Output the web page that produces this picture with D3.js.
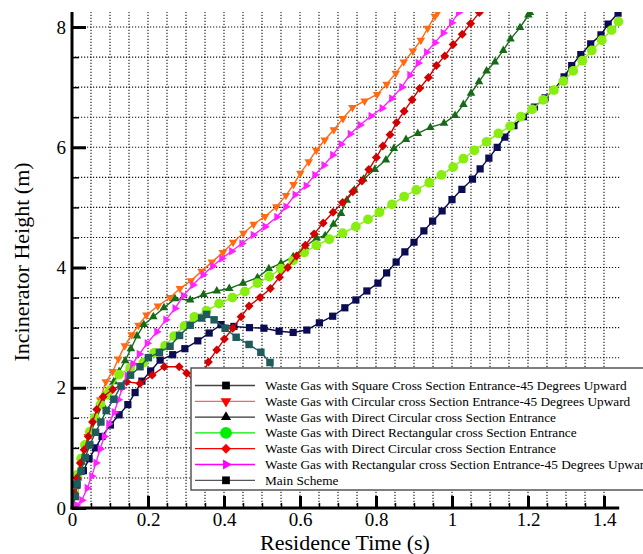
<!DOCTYPE html>
<html><head><meta charset="utf-8">
<script src="https://cdn.jsdelivr.net/npm/d3@7"></script>
<style>
body{margin:0;background:#fff;}
svg{display:block;font-family:"Liberation Serif","Times New Roman",serif;}
</style></head>
<body><svg id="c" width="643" height="554"></svg>
<script>
// ---------- DATA ----------
const legendLabels = [
  "Waste Gas with Square Cross Section Entrance-45 Degrees Upward",
  "Waste Gas with Circular cross Section Entrance-45 Degrees Upward",
  "Waste Gas with Direct Circular cross Section Entrance",
  "Waste Gas with Direct Rectangular cross Section Entrance",
  "Waste Gas with Direct Circular cross Section Entrance",
  "Waste Gas with Rectangular cross Section Entrance-45 Degrees Upward",
  "Main Scheme"
];
const xTicks = [0, 0.2, 0.4, 0.6, 0.8, 1, 1.2, 1.4];
const yTicks = [0, 2, 4, 6, 8];

// navy squares
const squareUp45 = [[0,0],[0.013,0.38],[0.030,0.62],[0.045,0.82],[0.062,1.0],[0.079,1.19],[0.101,1.38],[0.124,1.55],[0.147,1.72],[0.166,1.92],[0.184,2.11],[0.207,2.28],[0.232,2.46],[0.265,2.55],[0.297,2.65],[0.331,2.78],[0.361,2.91],[0.392,3.05],[0.426,3.02],[0.467,3.0],[0.505,2.99],[0.545,2.94],[0.582,2.92],[0.618,2.96],[0.651,3.08],[0.686,3.19],[0.718,3.33],[0.747,3.46],[0.776,3.61],[0.805,3.74],[0.828,3.91],[0.853,4.09],[0.876,4.26],[0.9,4.42],[0.926,4.61],[0.949,4.77],[0.974,4.94],[1.0,5.13],[1.026,5.30],[1.054,5.47],[1.074,5.64],[1.097,5.82],[1.119,6.0],[1.139,6.17],[1.163,6.36],[1.188,6.51],[1.217,6.67],[1.245,6.82],[1.269,6.96],[1.295,7.17],[1.315,7.36],[1.339,7.54],[1.365,7.72],[1.392,7.87],[1.411,8.05],[1.437,8.23]];
// orange down triangles
const circularUp45 = [[0,0],[0.008,0.27],[0.017,0.58],[0.027,0.85],[0.041,1.19],[0.058,1.49],[0.074,1.80],[0.089,2.10],[0.107,2.27],[0.122,2.48],[0.139,2.70],[0.157,2.88],[0.175,3.04],[0.196,3.21],[0.226,3.36],[0.258,3.50],[0.284,3.65],[0.313,3.78],[0.341,3.94],[0.368,4.09],[0.397,4.25],[0.424,4.42],[0.451,4.57],[0.478,4.72],[0.508,4.85],[0.538,5.01],[0.563,5.20],[0.583,5.38],[0.601,5.57],[0.623,5.76],[0.643,5.95],[0.665,6.12],[0.689,6.29],[0.713,6.48],[0.738,6.66],[0.770,6.77],[0.803,6.88],[0.828,7.05],[0.852,7.23],[0.873,7.42],[0.897,7.60],[0.918,7.78],[0.936,7.98],[0.955,8.18],[0.962,8.24]];
// dark green up triangles
const directCircular = [[0,0],[0.008,0.22],[0.016,0.5],[0.026,0.76],[0.037,1.02],[0.05,1.27],[0.065,1.5],[0.08,1.72],[0.095,1.93],[0.11,2.1],[0.124,2.27],[0.140,2.45],[0.155,2.65],[0.171,2.86],[0.189,3.05],[0.214,3.18],[0.242,3.33],[0.271,3.48],[0.311,3.46],[0.346,3.55],[0.381,3.61],[0.414,3.65],[0.450,3.74],[0.488,3.83],[0.518,3.98],[0.550,4.07],[0.582,4.18],[0.613,4.35],[0.644,4.49],[0.666,4.53],[0.688,4.72],[0.708,4.90],[0.723,5.12],[0.743,5.29],[0.767,5.47],[0.797,5.63],[0.826,5.79],[0.847,5.98],[0.879,6.13],[0.910,6.23],[0.943,6.33],[0.979,6.40],[1.008,6.53],[1.030,6.71],[1.050,6.90],[1.071,7.09],[1.091,7.27],[1.113,7.42],[1.135,7.61],[1.154,7.80],[1.179,7.99],[1.201,8.20],[1.205,8.24]];
// lime circles
const directRect = [[0,0],[0.006,0.25],[0.014,0.55],[0.024,0.82],[0.034,1.05],[0.047,1.27],[0.06,1.5],[0.075,1.72],[0.09,1.88],[0.1,1.96],[0.124,2.22],[0.153,2.33],[0.188,2.42],[0.216,2.58],[0.245,2.70],[0.269,2.86],[0.296,3.03],[0.322,3.18],[0.354,3.28],[0.387,3.40],[0.422,3.50],[0.455,3.60],[0.488,3.74],[0.519,3.85],[0.55,3.98],[0.582,4.12],[0.611,4.25],[0.643,4.37],[0.677,4.47],[0.712,4.57],[0.747,4.68],[0.779,4.80],[0.809,4.92],[0.842,5.05],[0.874,5.18],[0.906,5.29],[0.940,5.41],[0.972,5.54],[1.003,5.67],[1.030,5.81],[1.059,5.95],[1.091,6.09],[1.122,6.23],[1.153,6.35],[1.181,6.51],[1.211,6.63],[1.240,6.79],[1.268,6.95],[1.293,7.10],[1.319,7.27],[1.343,7.44],[1.368,7.61],[1.394,7.78],[1.420,7.95],[1.438,8.09]];
// red diamonds
const directCircular2 = [[0,0],[0.006,0.25],[0.013,0.5],[0.022,0.75],[0.032,0.97],[0.043,1.19],[0.054,1.43],[0.065,1.64],[0.082,1.85],[0.107,1.97],[0.144,2.10],[0.179,2.07],[0.211,2.21],[0.243,2.35],[0.282,2.35],[0.302,2.24],[0.322,2.1],[0.342,2.2],[0.359,2.43],[0.381,2.63],[0.401,2.81],[0.423,2.99],[0.445,3.18],[0.466,3.36],[0.495,3.50],[0.522,3.65],[0.546,3.84],[0.568,4.0],[0.591,4.19],[0.614,4.37],[0.637,4.56],[0.661,4.74],[0.687,4.92],[0.712,5.08],[0.739,5.26],[0.763,5.44],[0.781,5.63],[0.801,5.83],[0.818,6.02],[0.837,6.21],[0.854,6.41],[0.874,6.60],[0.895,6.79],[0.915,6.98],[0.938,7.16],[0.959,7.36],[0.981,7.52],[1.003,7.71],[1.027,7.88],[1.049,8.06],[1.072,8.24]];
// magenta right triangles
const rectUp45 = [[0,0],[0.012,0.05],[0.026,0.13],[0.040,0.33],[0.052,0.53],[0.063,0.75],[0.074,0.98],[0.085,1.19],[0.097,1.40],[0.111,1.59],[0.122,1.80],[0.133,2.0],[0.145,2.2],[0.16,2.4],[0.177,2.56],[0.198,2.74],[0.223,2.93],[0.247,3.13],[0.271,3.32],[0.293,3.53],[0.318,3.71],[0.345,3.88],[0.370,4.02],[0.394,4.15],[0.42,4.27],[0.447,4.40],[0.477,4.54],[0.508,4.68],[0.539,4.84],[0.563,5.01],[0.587,5.21],[0.616,5.36],[0.639,5.54],[0.663,5.70],[0.686,5.87],[0.708,6.05],[0.732,6.22],[0.758,6.37],[0.787,6.52],[0.816,6.65],[0.841,6.81],[0.868,7.0],[0.889,7.20],[0.911,7.40],[0.933,7.58],[0.955,7.74],[0.977,7.90],[0.999,8.07],[1.017,8.24]];
// teal squares
const mainScheme = [[0,0],[0.009,0.19],[0.013,0.40],[0.024,0.61],[0.035,0.84],[0.047,1.05],[0.062,1.26],[0.076,1.43],[0.090,1.62],[0.110,1.81],[0.129,2.03],[0.154,2.21],[0.179,2.35],[0.201,2.50],[0.230,2.59],[0.258,2.69],[0.283,2.87],[0.311,3.04],[0.341,3.16],[0.354,3.22],[0.374,3.13],[0.403,2.99],[0.432,2.84],[0.466,2.72],[0.497,2.59],[0.521,2.42],[0.535,2.25]];

// ---------- STYLES ----------
const series = [
  {data: squareUp45,      color:"#0c0c52", sym:"square",   size:52},
  {data: circularUp45,    color:"#ff6a13", sym:"down",     size:32},
  {data: directCircular,  color:"#176a17", sym:"up",       size:32},
  {data: directRect,      color:"#88ee10", sym:"circle",   size:75},
  {data: directCircular2, color:"#d40000", sym:"diamond",  size:40},
  {data: rectUp45,        color:"#ff22ff", sym:"right",    size:32},
  {data: mainScheme,      color:"#1e5c5c", sym:"square",   size:56}
];
const legendStyle = [
  {line:"#444", fill:"#000", sym:"square", size:60},
  {line:"#ff6060", fill:"#ff0000", sym:"down", size:50},
  {line:"#333", fill:"#000", sym:"up", size:45},
  {line:"#00ee00", fill:"#00ee00", sym:"circle", size:110},
  {line:"#ff0000", fill:"#ff0000", sym:"diamond", size:50},
  {line:"#ff00ff", fill:"#ff00ff", sym:"right", size:45},
  {line:"#555", fill:"#000", sym:"square", size:60}
];

const svg = d3.select("#c");
const x = d3.scaleLinear().domain([0, 1.44]).range([72, 619.2]);
const y = d3.scaleLinear().domain([0, 8.25]).range([508, 12]);

function symPath(name, size){
  const t = {square:d3.symbolSquare, circle:d3.symbolCircle, diamond:d3.symbolSquare,
             up:d3.symbolTriangle, down:d3.symbolTriangle, right:d3.symbolTriangle}[name];
  return d3.symbol().type(t).size(size)();
}
function symRot(name){ return {down:180, right:90, diamond:45}[name] || 0; }

// grid
const gx = d3.range(0.05, 1.4001, 0.05);
const gy = d3.range(0.5, 8.001, 0.5);
const grid = svg.append("g").attr("stroke","#111").attr("stroke-width",1.1).attr("stroke-dasharray","1.2,1.8");
gx.forEach(v=>grid.append("line").attr("x1",x(v)).attr("x2",x(v)).attr("y1",y(0)).attr("y2",y(8.25)));
gy.forEach(v=>grid.append("line").attr("x1",x(0)).attr("x2",x(1.44)).attr("y1",y(v)).attr("y2",y(v)));

// axes via d3
const xAxisMinor = d3.axisTop(x).tickValues(d3.range(0,1.4001,0.05)).tickSize(5).tickFormat("");
svg.append("g").attr("transform",`translate(0,${y(0)})`).call(xAxisMinor)
  .call(g=>{g.select(".domain").remove(); g.selectAll("line").attr("stroke","#000").attr("stroke-width",1.5);});
const xAxis = d3.axisTop(x).tickValues(xTicks).tickSize(12).tickFormat("");
svg.append("g").attr("transform",`translate(0,${y(0)})`).call(xAxis)
  .call(g=>{g.select(".domain").remove(); g.selectAll("line").attr("stroke","#000").attr("stroke-width",3);});
const xLab = d3.axisBottom(x).tickValues(xTicks).tickSize(0).tickPadding(5).tickFormat(d=>d===0?"0":d3.format("")(d));
svg.append("g").attr("transform",`translate(0,${y(0)})`).call(xLab)
  .call(g=>{g.select(".domain").remove(); g.selectAll("text").attr("font-size",19).attr("font-family","Liberation Serif").attr("fill","#000");});

const yAxisMinor = d3.axisRight(y).tickValues(d3.range(0,8.001,0.5)).tickSize(7).tickFormat("");
svg.append("g").attr("transform",`translate(${x(0)},0)`).call(yAxisMinor)
  .call(g=>{g.select(".domain").remove(); g.selectAll("line").attr("stroke","#000").attr("stroke-width",1.5);});
const yAxis = d3.axisRight(y).tickValues(yTicks).tickSize(14).tickFormat("");
svg.append("g").attr("transform",`translate(${x(0)},0)`).call(yAxis)
  .call(g=>{g.select(".domain").remove(); g.selectAll("line").attr("stroke","#000").attr("stroke-width",3);});
const yLab = d3.axisLeft(y).tickValues(yTicks).tickSize(0).tickPadding(6).tickFormat(d3.format("d"));
svg.append("g").attr("transform",`translate(${x(0)},0)`).call(yLab)
  .call(g=>{g.select(".domain").remove(); g.selectAll("text").attr("font-size",19).attr("font-family","Liberation Serif").attr("fill","#000");});

// clip
svg.append("clipPath").attr("id","clip").append("rect")
  .attr("x",x(0)).attr("y",y(8.25)).attr("width",x(1.44)-x(0)+6).attr("height",y(0)-y(8.25));
const plot = svg.append("g").attr("clip-path","url(#clip)");
const line = d3.line().x(d=>x(d[0])).y(d=>y(d[1]));
series.forEach(s=>{
  plot.append("path").attr("d",line(s.data)).attr("fill","none").attr("stroke",s.color).attr("stroke-width",1.4);
  plot.append("g").selectAll("path").data(s.data.slice(1)).join("path")
    .attr("d",symPath(s.sym,s.size)).attr("fill",s.color)
    .attr("transform",d=>`translate(${x(d[0])},${y(d[1])}) rotate(${symRot(s.sym)})`);
});

// axis lines
svg.append("line").attr("x1",x(0)).attr("x2",x(0)).attr("y1",y(0)+1.5).attr("y2",y(8.25)).attr("stroke","#000").attr("stroke-width",3);
svg.append("line").attr("x1",x(0)-1.5).attr("x2",x(1.44)).attr("y1",y(0)).attr("y2",y(0)).attr("stroke","#000").attr("stroke-width",3);

// titles
svg.append("text").attr("x",345).attr("y",550).attr("text-anchor","middle").attr("font-size",22).text("Residence Time (s)");
svg.append("text").attr("transform","translate(29,262) rotate(-90)").attr("text-anchor","middle").attr("font-size",22).text("Incinerator Height (m)");

// legend
const lg = svg.append("g");
lg.append("rect").attr("x",191).attr("y",368).attr("width",470).attr("height",122).attr("fill","#fff").attr("stroke","#555").attr("stroke-width",1.5);
legendLabels.forEach((t,i)=>{
  const ly = 385.5 + i*15.8;
  const st = legendStyle[i];
  lg.append("line").attr("x1",195).attr("x2",255).attr("y1",ly).attr("y2",ly).attr("stroke",st.line).attr("stroke-width",1.3);
  lg.append("path").attr("d",symPath(st.sym,st.size)).attr("fill",st.fill).attr("transform",`translate(226,${ly}) rotate(${symRot(st.sym)})`);
  lg.append("text").attr("x",265).attr("y",ly+4.5).attr("font-size",13.3).attr("fill","#000").text(t);
});
</script></body></html>
